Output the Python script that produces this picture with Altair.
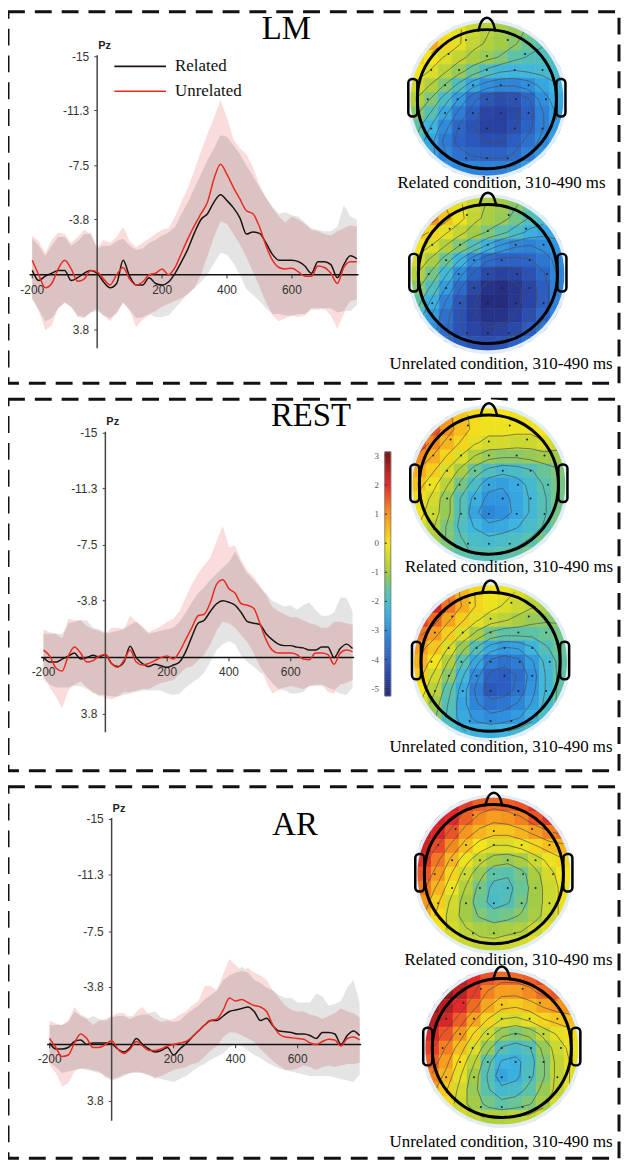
import altair as alt
import numpy as np
import pandas as pd

# ---------------------------------------------------------------- ERP data
TIME = list(range(-200, 801, 20))

LM_REL = [-0.3, 0.4, 0.1, -0.1, -0.3, -0.3, 0.4, 0.2, -0.1, -0.3,
          -0.1, 0.5, 0.9, 0.6, -1.0, 0.1, 0.7, 0.7, 0.2, 0.6,
          0.7, 0.5, -0.1, -0.9, -1.8, -2.9, -3.8, -4.2, -5.0, -5.5,
          -5.1, -4.6, -3.9, -2.8, -2.95, -2.85, -2.2, -1.4, -1.0, -1.0,
          -1.0, -0.9, -0.6, -0.1, -0.9, -0.9, -0.7, 0.2, -0.7, -1.3, -1.1]
LM_UNREL = [-1.0, 0.0, 0.9, 0.6, -0.4, -1.0, -0.4, 0.45, 0.3, -0.3,
            -0.2, 0.3, 0.7, 0.0, -0.5, 0.3, 0.7, 0.5, 0.0, -0.1,
            -0.4, 0.0, -0.5, -1.5, -2.5, -3.4, -4.2, -5.0, -6.6, -7.6,
            -6.9, -6.0, -5.2, -4.4, -4.2, -3.3, -2.0, -1.0, -0.5, -0.4,
            -0.45, -0.2, 0.1, 0.1, -0.6, -0.5, -0.1, 0.6, -0.5, -0.9, -0.9]
LM_REL_NEG = [-2.5, -2.0, -1.3, -2.0, -2.6, -2.6, -2.0, -2.3, -2.8, -2.9,
              -1.8, -2.0, -2.0, -2.3, -2.5, -2.0, -1.7, -1.8, -2.2, -2.4,
              -2.7, -2.9, -3.3, -4.2, -5.0, -6.0, -6.9, -7.9, -8.7, -9.6,
              -9.5, -8.9, -8.3, -7.5, -6.8, -6.0, -5.3, -4.7, -4.2, -4.3,
              -4.1, -4.0, -3.6, -3.2, -3.1, -3.0, -3.0, -3.3, -4.8, -4.0, -3.8]
LM_REL_POS = [1.7, 2.4, 3.2, 3.0, 2.3, 1.9, 2.2, 2.8, 2.9, 2.6,
              2.5, 2.8, 3.0, 2.7, 1.9, 2.4, 3.0, 2.9, 2.7, 2.9,
              2.9, 2.8, 2.3, 1.8, 1.3, 0.9, 0.5, 0.0, -0.8, -1.5,
              -1.4, -0.8, 0.0, 1.0, 1.4, 1.8, 2.3, 2.7, 2.7, 2.8,
              2.8, 2.7, 2.7, 2.3, 2.3, 2.4, 2.3, 2.6, 2.5, 2.5, 2.1]
LM_UNREL_NEG = [-2.7, -2.3, -1.5, -2.4, -2.9, -2.8, -2.2, -2.6, -3.1, -2.8,
                -1.9, -2.4, -2.2, -2.6, -3.3, -2.3, -1.9, -2.2, -2.5, -2.8,
                -3.1, -3.2, -4.0, -5.0, -6.0, -7.2, -8.5, -9.7, -10.8, -12.0,
                -10.8, -9.3, -8.7, -8.3, -7.4, -6.2, -5.3, -4.6, -4.0, -3.6,
                -4.0, -3.8, -3.5, -3.1, -3.0, -2.8, -2.7, -3.0, -3.2, -3.4, -3.3]
LM_UNREL_POS = [1.6, 2.5, 3.8, 3.5, 2.3, 1.9, 2.2, 2.9, 3.0, 2.6,
                2.3, 2.8, 3.2, 2.6, 1.9, 2.5, 3.6, 3.1, 2.8, 2.5,
                2.2, 2.0, 1.8, 1.6, 1.3, 0.9, 0.0, -1.3, -2.6, -3.7,
                -3.5, -2.8, -2.1, -1.2, -0.2, 0.8, 1.9, 2.8, 3.2, 3.0,
                2.8, 2.9, 2.8, 2.4, 2.4, 2.3, 2.8, 3.7, 2.7, 1.8, 1.7]

REST_REL = [0.0, 0.3, 0.3, 0.1, -0.1, -0.3, 0.1, 0.0, -0.15, -0.05,
            -0.2, 0.4, 0.6, 0.3, -0.75, 0.0, 0.4, 0.6, 0.45, 0.55,
            0.65, 0.5, 0.3, -0.4, -1.4, -2.3, -2.5, -3.1, -3.6, -3.8,
            -3.7, -3.5, -3.0, -2.4, -2.3, -2.2, -1.6, -1.2, -0.9, -0.8,
            -0.8, -0.7, -0.65, -0.5, -0.5, -0.7, -0.7, 0.0, -0.6, -0.9, -0.6]
REST_UNREL = [-0.5, -0.1, 0.7, 0.9, -0.1, -0.7, -0.3, 0.3, 0.2, -0.1,
              -0.2, 0.4, 0.65, 0.2, -0.5, 0.3, 0.5, 0.4, 0.2, 0.0,
              -0.1, 0.1, -0.4, -1.2, -2.0, -2.8, -2.9, -3.7, -4.9, -5.2,
              -4.6, -4.3, -3.6, -3.5, -3.3, -2.3, -1.2, -0.5, -0.3, -0.3,
              -0.3, -0.2, 0.1, 0.15, -0.3, -0.3, -0.2, 0.45, -0.3, -0.5, -0.4]
REST_REL_NEG = [-1.6, -1.6, -1.6, -1.6, -2.3, -2.4, -2.5, -2.5, -2.0, -1.9,
                -1.7, -1.7, -1.8, -2.0, -2.2, -2.4, -2.0, -1.6, -1.7, -1.8,
                -1.9, -2.0, -2.4, -3.0, -3.7, -4.3, -4.7, -5.2, -5.6, -6.0,
                -6.4, -7.1, -6.3, -5.6, -5.2, -4.7, -4.3, -3.8, -3.6, -3.4,
                -3.5, -3.2, -3.5, -3.7, -3.2, -2.8, -2.8, -3.0, -4.0, -4.0, -3.1]
REST_REL_POS = [1.5, 1.8, 2.0, 2.0, 2.0, 1.9, 1.9, 2.1, 2.3, 2.6,
                2.5, 2.6, 2.6, 2.5, 2.4, 2.3, 2.2, 2.2, 2.2, 2.2,
                2.4, 2.5, 2.4, 2.0, 1.7, 1.4, 1.0, 0.3, -0.5, -0.9,
                -1.1, -0.9, -0.1, 0.3, 0.6, 1.0, 1.2, 1.7, 2.1, 2.2,
                2.4, 2.4, 2.3, 1.9, 1.9, 1.9, 2.0, 2.2, 2.4, 2.5, 2.0]
REST_UNREL_NEG = [-1.9, -1.7, -1.6, -1.3, -2.6, -2.5, -2.5, -2.1, -1.9, -1.8,
                  -1.6, -2.0, -2.0, -1.9, -2.8, -2.4, -2.1, -1.7, -1.9, -2.1,
                  -2.4, -2.6, -3.1, -4.0, -4.9, -5.6, -6.2, -6.7, -7.8, -8.8,
                  -7.4, -7.5, -6.5, -5.8, -5.4, -4.8, -4.2, -3.4, -3.1, -2.9,
                  -2.7, -2.7, -2.5, -2.3, -2.2, -2.0, -2.0, -2.4, -2.4, -2.3, -2.2]
REST_UNREL_POS = [1.3, 2.0, 2.6, 3.4, 2.2, 1.8, 1.6, 2.0, 2.4, 2.5,
                  2.7, 2.8, 2.6, 2.3, 2.3, 2.2, 2.1, 2.1, 1.9, 1.7,
                  1.6, 1.5, 1.1, 0.7, 0.6, 0.2, -0.2, -0.9, -1.8, -2.4,
                  -2.3, -2.0, -1.5, -1.0, -0.3, 0.6, 1.6, 2.4, 2.2, 2.0,
                  1.9, 2.0, 2.1, 1.9, 1.8, 1.8, 2.3, 2.4, 1.8, 1.7, 1.5]

AR_REL = [-0.1, 0.3, 0.3, 0.2, -0.2, -0.3, 0.0, -0.1, -0.1, -0.1,
          -0.05, 0.3, 0.5, 0.2, -0.4, 0.0, 0.3, 0.5, 0.4, 0.2,
          0.7, 0.3, -0.05, -0.5, -0.9, -1.3, -1.6, -1.6, -1.9, -2.2,
          -2.3, -2.4, -2.5, -2.2, -1.6, -1.75, -1.25, -0.9, -0.85, -0.8,
          -0.7, -0.7, -0.6, -0.4, -0.8, -0.8, -0.7, 0.0, -0.6, -0.9, -0.6]
AR_UNREL = [-0.4, 0.2, 0.8, 0.7, -0.1, -0.7, -0.4, 0.2, 0.2, 0.0,
            -0.25, 0.3, 0.6, 0.3, -0.2, 0.1, 0.4, 0.4, 0.3, 0.1,
            0.0, -0.1, -0.2, -0.5, -0.9, -1.3, -1.6, -1.7, -2.3, -3.1,
            -2.9, -3.0, -2.8, -2.6, -2.5, -2.2, -1.3, -0.7, -0.5, -0.45,
            -0.4, -0.35, -0.1, 0.0, -0.2, -0.35, -0.3, 0.1, -0.4, -0.5, -0.3]
AR_REL_NEG = [-1.3, -1.3, -1.3, -1.5, -2.2, -1.9, -1.7, -1.9, -1.7, -1.6,
              -1.8, -1.9, -1.9, -1.9, -1.9, -2.0, -2.1, -2.2, -1.8, -1.7,
              -1.5, -1.6, -2.0, -2.3, -2.6, -3.0, -3.3, -3.7, -4.3, -4.6,
              -4.8, -5.2, -4.8, -4.3, -4.1, -3.8, -3.6, -3.3, -3.1, -3.1,
              -2.8, -2.8, -2.8, -3.4, -3.2, -2.6, -2.7, -2.9, -3.8, -4.3, -2.8]
AR_REL_POS = [1.2, 1.5, 1.9, 1.8, 1.7, 1.6, 1.7, 1.8, 1.9, 2.1,
              2.4, 2.3, 2.1, 1.9, 1.9, 1.9, 2.1, 2.2, 2.3, 2.4,
              2.5, 2.3, 2.1, 1.8, 1.5, 1.3, 1.0, 0.8, 0.6, 0.2,
              -0.1, 0.1, 0.4, 0.7, 0.9, 1.2, 1.4, 1.6, 1.7, 1.8,
              1.9, 2.0, 2.1, 2.1, 2.1, 2.1, 2.2, 2.3, 2.4, 2.5, 2.0]
AR_UNREL_NEG = [-1.6, -1.4, -1.3, -1.6, -2.5, -2.0, -1.8, -1.3, -1.6, -1.7,
                -1.9, -2.1, -2.1, -1.7, -2.2, -2.5, -2.0, -1.7, -1.5, -1.6,
                -1.7, -2.0, -2.2, -2.6, -2.9, -3.9, -3.9, -3.6, -4.7, -5.7,
                -5.3, -4.9, -5.1, -4.8, -4.6, -4.3, -3.6, -3.1, -2.6, -2.3,
                -2.2, -2.2, -2.0, -1.9, -1.7, -1.9, -2.1, -2.4, -2.2, -2.1, -1.8]
AR_UNREL_POS = [1.4, 1.9, 2.8, 2.6, 1.8, 1.6, 1.6, 1.7, 1.8, 2.2,
                2.3, 2.2, 2.0, 1.9, 1.8, 1.9, 2.0, 2.3, 2.1, 1.9,
                1.7, 1.6, 1.5, 1.3, 1.2, 0.8, 0.4, 0.1, -0.5, -0.8,
                -0.8, -0.6, -0.4, -0.2, 0.3, 0.7, 1.1, 1.4, 1.7, 1.7,
                1.6, 1.4, 1.5, 1.7, 1.5, 1.4, 1.5, 1.4, 1.3, 1.3, 1.2]

Y_TICKS = [-15, -11.3, -7.5, -3.8, 3.8]
X_TICKS = [-200, 200, 400, 600]
COND_LABELS = ["Related", "Unrelated"]
PANEL_TITLES = ["LM", "REST", "AR"]
REL_TITLE = "Related condition, 310-490 ms"
UNREL_TITLE = "Unrelated condition, 310-490 ms"

# ------------------------------------------------- topographic maps (µV)
# 11 x 11 grid over the scalp, row 0 = front (nose), column 0 = left
N = None
LM_REL_MAP = [
    [N, N, 0.0, -0.2, -0.5, -0.7, -0.9, -1.1, -1.3, N, N],
    [N, 0.8, 0.2, -0.2, -0.6, -0.8, -1.0, -1.2, -1.5, -1.7, N],
    [0.2, 0.0, -0.3, -0.6, -0.9, -1.1, -1.3, -1.6, -1.8, -1.9, -1.9],
    [0.0, -0.3, -0.7, -1.1, -1.5, -1.9, -2.2, -2.3, -2.2, -2.1, -2.0],
    [-0.4, -0.8, -1.3, -1.9, -2.6, -3.0, -3.2, -3.2, -3.0, -2.6, -2.3],
    [-0.8, -1.3, -2.0, -2.8, -3.6, -4.1, -4.3, -4.2, -3.8, -3.0, -2.5],
    [-1.2, -1.8, -2.6, -3.4, -4.0, -4.5, -4.6, -4.4, -4.0, -3.3, -2.7],
    [-1.6, -2.3, -3.1, -3.8, -4.2, -4.6, -4.6, -4.3, -3.9, -3.3, -2.8],
    [-1.9, -2.6, -3.4, -3.9, -4.1, -4.3, -4.3, -4.0, -3.6, -3.1, -2.7],
    [N, -2.6, -3.2, -3.6, -3.8, -3.9, -3.9, -3.7, -3.3, -2.9, N],
    [N, N, -2.9, -3.1, -3.2, -3.3, -3.3, -3.1, -2.8, N, N],
]
LM_UNREL_MAP = [
    [N, N, 0.2, -0.2, -0.5, -0.8, -1.0, -1.2, -1.5, N, N],
    [N, 1.0, 0.4, -0.1, -0.6, -0.9, -1.1, -1.4, -1.8, -2.0, N],
    [0.4, 0.2, -0.2, -0.6, -1.0, -1.3, -1.6, -2.0, -2.4, -2.6, -2.6],
    [0.0, -0.3, -0.8, -1.3, -1.8, -2.4, -2.9, -3.2, -3.3, -3.1, -2.9],
    [-0.4, -0.9, -1.5, -2.3, -3.1, -3.7, -3.9, -3.9, -3.8, -3.5, -3.1],
    [-0.8, -1.4, -2.2, -3.1, -3.9, -4.4, -4.6, -4.5, -4.2, -3.8, -3.2],
    [-1.2, -1.9, -2.8, -3.7, -4.4, -5.0, -5.1, -4.9, -4.5, -4.0, -3.3],
    [-1.6, -2.4, -3.3, -4.1, -4.7, -5.2, -5.2, -4.9, -4.5, -4.0, -3.3],
    [-2.0, -2.8, -3.6, -4.2, -4.7, -5.0, -5.0, -4.7, -4.3, -3.8, -3.2],
    [N, -3.0, -3.7, -4.2, -4.5, -4.7, -4.6, -4.4, -4.0, -3.5, N],
    [N, N, -3.6, -4.0, -4.2, -4.3, -4.2, -3.9, -3.6, N, N],
]
REST_REL_MAP = [
    [N, N, 0.9, 0.4, 0.1, 0.0, 0.0, -0.1, -0.1, N, N],
    [N, 1.6, 1.0, 0.5, 0.1, -0.1, -0.1, -0.1, -0.1, 0.0, N],
    [1.6, 1.1, 0.6, 0.2, -0.2, -0.4, -0.4, -0.5, -0.5, -0.3, -0.5],
    [1.1, 0.7, 0.2, -0.3, -0.8, -1.1, -1.2, -1.2, -1.1, -1.0, -1.0],
    [0.7, 0.3, -0.3, -0.9, -1.5, -1.9, -2.1, -2.0, -1.8, -1.5, -1.3],
    [0.4, -0.1, -0.7, -1.4, -2.0, -2.6, -2.7, -2.5, -2.1, -1.7, -1.4],
    [0.1, -0.4, -1.1, -1.8, -2.4, -2.9, -2.9, -2.6, -2.2, -1.8, -1.4],
    [-0.1, -0.5, -1.1, -1.8, -2.6, -3.2, -3.0, -2.6, -2.2, -1.8, -1.4],
    [-0.3, -0.7, -1.3, -1.9, -2.3, -2.6, -2.5, -2.3, -2.0, -1.7, -1.4],
    [N, -0.9, -1.3, -1.7, -2.0, -2.1, -2.0, -1.9, -1.7, -1.4, N],
    [N, N, -1.4, -1.6, -1.8, -1.8, -1.7, -1.6, -1.4, N, N],
]
REST_UNREL_MAP = [
    [N, N, 1.2, 0.6, 0.2, 0.0, -0.1, -0.3, -0.5, N, N],
    [N, 2.0, 1.3, 0.7, 0.2, -0.1, -0.3, -0.5, -0.7, -0.9, N],
    [1.8, 1.4, 0.8, 0.3, -0.2, -0.5, -0.7, -0.9, -1.1, -1.2, -1.2],
    [1.3, 0.9, 0.3, -0.3, -0.9, -1.4, -1.6, -1.6, -1.6, -1.5, -1.4],
    [0.9, 0.4, -0.3, -1.1, -1.8, -2.5, -2.8, -2.7, -2.3, -1.8, -1.5],
    [0.6, 0.0, -0.8, -1.7, -2.6, -3.4, -3.6, -3.4, -2.8, -2.1, -1.6],
    [0.3, -0.4, -1.2, -2.2, -3.1, -3.9, -4.0, -3.7, -3.0, -2.2, -1.6],
    [0.0, -0.7, -1.6, -2.5, -3.4, -4.1, -4.0, -3.6, -2.9, -2.2, -1.6],
    [-0.3, -1.0, -1.8, -2.6, -3.2, -3.6, -3.5, -3.2, -2.7, -2.1, -1.6],
    [N, -1.2, -1.9, -2.5, -2.9, -3.1, -3.0, -2.8, -2.4, -1.9, N],
    [N, N, -1.9, -2.2, -2.4, -2.4, -2.3, -2.1, -1.9, N, N],
]
AR_REL_MAP = [
    [N, N, 2.2, 1.8, 1.5, 1.4, 1.5, 1.6, 1.9, N, N],
    [N, 2.2, 2.0, 1.5, 1.1, 0.9, 1.0, 1.2, 1.6, 1.9, N],
    [2.3, 2.1, 1.6, 1.0, 0.6, 0.4, 0.4, 0.6, 0.9, 1.2, 1.4],
    [2.2, 1.7, 1.1, 0.5, 0.0, -0.3, -0.3, -0.1, 0.2, 0.5, 0.6],
    [1.9, 1.3, 0.6, -0.1, -0.6, -1.0, -1.1, -0.9, -0.5, -0.1, 0.2],
    [1.6, 1.0, 0.2, -0.5, -1.1, -1.6, -1.7, -1.4, -0.9, -0.4, 0.0],
    [1.3, 0.6, -0.1, -0.8, -1.4, -1.9, -1.9, -1.5, -1.0, -0.5, -0.1],
    [1.0, 0.3, -0.4, -1.0, -1.5, -2.0, -1.8, -1.4, -1.0, -0.5, -0.1],
    [0.7, 0.1, -0.5, -1.0, -1.3, -1.5, -1.4, -1.2, -0.9, -0.5, -0.1],
    [N, 0.0, -0.4, -0.7, -0.9, -1.0, -0.9, -0.8, -0.5, -0.2, N],
    [N, N, -0.3, -0.5, -0.6, -0.6, -0.5, -0.4, -0.2, N, N],
]
AR_UNREL_MAP = [
    [N, N, 2.5, 2.0, 1.6, 1.4, 1.4, 1.5, 1.7, N, N],
    [N, 2.9, 2.4, 1.8, 1.2, 0.9, 0.9, 1.1, 1.4, 1.6, N],
    [2.8, 2.5, 2.0, 1.4, 0.8, 0.4, 0.3, 0.5, 0.8, 1.0, 1.1],
    [2.5, 2.1, 1.5, 0.8, 0.2, -0.3, -0.4, -0.2, 0.2, 0.4, 0.5],
    [2.1, 1.6, 1.0, 0.2, -0.5, -1.1, -1.3, -1.1, -0.6, -0.2, 0.1],
    [1.8, 1.2, 0.5, -0.3, -1.1, -1.8, -2.0, -1.8, -1.1, -0.5, -0.1],
    [1.5, 0.9, 0.1, -0.7, -1.6, -2.3, -2.4, -2.0, -1.3, -0.6, -0.2],
    [1.2, 0.6, -0.2, -1.0, -1.8, -2.6, -2.4, -1.9, -1.3, -0.6, -0.2],
    [0.9, 0.3, -0.4, -1.1, -1.7, -2.1, -2.0, -1.6, -1.1, -0.6, -0.2],
    [N, 0.1, -0.5, -1.0, -1.4, -1.6, -1.5, -1.3, -0.9, -0.4, N],
    [N, N, -0.4, -0.6, -0.8, -0.8, -0.7, -0.6, -0.4, N, N],
]

# electrode positions (head units) and head outline parts
ELEC_U = [-0.3, 0.3, -0.55, 0.0, 0.55, -0.8, -0.4, 0.0, 0.4, 0.8, -0.6, -0.2, 0.2, 0.6,
          -0.85, -0.42, 0.0, 0.42, 0.85, -0.6, -0.2, 0.2, 0.6, -0.8, -0.4, 0.0, 0.4, 0.8,
          -0.3, 0.0, 0.3]
ELEC_V = [0.85, 0.85, 0.65, 0.62, 0.65, 0.42, 0.42, 0.42, 0.42, 0.42, 0.2, 0.2, 0.2, 0.2,
          0.0, 0.0, 0.0, 0.0, 0.0, -0.2, -0.2, -0.2, -0.2, -0.42, -0.42, -0.42, -0.42, -0.42,
          -0.85, -0.85, -0.85]
NOSE_U = [-0.12, -0.09, -0.05, 0.0, 0.05, 0.09, 0.12]
NOSE_V = [0.99, 1.09, 1.15, 1.17, 1.15, 1.09, 0.99]
EAR_U0 = [-1.13, 1.0]
EAR_U1 = [-1.0, 1.13]
EAR_V0 = [-0.25, -0.25]
EAR_V1 = [0.29, 0.29]

CB_TICKS = [3, 2, 1, 0, -1, -2, -3, -4, -5]
CB_MIN, CB_MAX = -5.25, 3.14
C_STOPS = [-5.25, -4.5, -4.0, -3.0, -2.3, -1.6, -1.0, 0.0, 1.0, 2.0, 3.14]
C_COLS = ["#252a7a", "#2a45a5", "#2c5dc0", "#2f90df", "#3db5df", "#5ec3a6",
          "#a2cb47", "#f4e41c", "#f7961f", "#e2282a", "#7a1616"]
CONTOUR_LEVELS = [-4.75 + 0.5 * k for k in range(16)]

SANS = "Liberation Sans"
SERIF = "Liberation Serif"
BLACK_LINE = "#1c1414"
RED_LINE = "#ea2a1e"
GRAY_BAND = "#e4e4e4"
PINK_BAND = "#fbdcdc"
OVER_BAND = "#dcc3c3"

R = 70.0      # head radius in px
STEP = 0.2    # grid step in head units
DISC = 1.1    # radius of the coloured disc, head units
CSCALE = dict(domain=C_STOPS, range=C_COLS, clamp=True, interpolate="rgb")
TWO_PI = 2 * np.pi


def erp_layer(g, series, title, tpos, legend):
    rel, unrel, rn, rp, un, up = series
    x0, x1, y0, y1, vb = g
    xs = alt.Scale(domain=[-200, 800], range=[x0, x1], nice=False, zero=False)
    ys = alt.Scale(domain=[-15, vb], range=[y0, y1], nice=False, zero=False)

    def X(f):
        return alt.X(f, type="quantitative", scale=xs, axis=None)

    def Y(f):
        return alt.Y(f, type="quantitative", scale=ys, axis=None)

    df = pd.DataFrame(dict(t=TIME, rel=rel, unrel=unrel, rn=rn, rp=rp, un=un, up=up))
    df["on"] = np.maximum(df["rn"], df["un"])
    df["op"] = np.maximum(np.minimum(df["rp"], df["up"]), df["on"])
    base = alt.Chart(df)
    layers = [
        base.mark_area(color=GRAY_BAND).encode(X("t"), Y("rn"), alt.Y2("rp")),
        base.mark_area(color=PINK_BAND).encode(X("t"), Y("un"), alt.Y2("up")),
        base.mark_area(color=OVER_BAND).encode(X("t"), Y("on"), alt.Y2("op")),
    ]
    xa = pd.DataFrame({"t0": [TIME[0] - 8], "t1": [TIME[-1] + 5], "v": [0]})
    layers.append(alt.Chart(xa).mark_rule(color="#111111", strokeWidth=1.5)
                  .encode(X("t0"), alt.X2("t1"), Y("v")))
    ya = pd.DataFrame({"t": [0], "v0": [-15.1], "v1": [vb]})
    layers.append(alt.Chart(ya).mark_rule(color="#444444", strokeWidth=1.5)
                  .encode(X("t"), Y("v0"), alt.Y2("v1")))
    yt = pd.DataFrame({"v": Y_TICKS, "lab": [f"{v:g}" for v in Y_TICKS], "t0": -9, "t1": 0})
    layers.append(alt.Chart(yt).mark_rule(color="#444444", strokeWidth=1)
                  .encode(X("t0"), alt.X2("t1"), Y("v")))
    layers.append(alt.Chart(yt).mark_text(align="right", baseline="middle", dx=-8, font=SANS,
                                          fontSize=12, color="#333333")
                  .encode(X("t1"), Y("v"), text="lab:N"))
    xt = pd.DataFrame({"t": X_TICKS, "lab": [f"{t:g}" for t in X_TICKS], "v0": 0, "v1": 0.25})
    layers.append(alt.Chart(xt).mark_rule(color="#333333", strokeWidth=1)
                  .encode(X("t"), Y("v0"), alt.Y2("v1")))
    layers.append(alt.Chart(xt).mark_text(align="center", baseline="middle", dy=15, font=SANS,
                                          fontSize=12, color="#333333")
                  .encode(X("t"), Y("v0"), text="lab:N"))
    pz = pd.DataFrame({"t": [0], "v": [-15], "lab": ["Pz"]})
    layers.append(alt.Chart(pz).mark_text(align="left", baseline="middle", dx=1, dy=-11, font=SANS,
                                          fontSize=11, fontWeight="bold", color="#222222")
                  .encode(X("t"), Y("v"), text="lab:N"))
    tt = pd.DataFrame({"t": [tpos[0]], "v": [tpos[1]], "lab": [title]})
    layers.append(alt.Chart(tt).mark_text(align="center", baseline="middle", font=SERIF,
                                          fontSize=33, color="black")
                  .encode(X("t"), Y("v"), text="lab:N"))
    if legend:
        lg = pd.DataFrame({"t0": [53, 53], "t1": [212, 212], "tl": [240, 240],
                           "v": [-14.34, -12.63], "lab": COND_LABELS,
                           "col": [BLACK_LINE, RED_LINE]})
        layers.append(alt.Chart(lg).mark_rule(strokeWidth=1.6)
                      .encode(X("t0"), alt.X2("t1"), Y("v"),
                              color=alt.Color("col:N", scale=None)))
        layers.append(alt.Chart(lg).mark_text(align="left", baseline="middle", font=SERIF,
                                              fontSize=17, color="#111111")
                      .encode(X("tl"), Y("v"), text="lab:N"))
    layers.append(base.mark_line(color=BLACK_LINE, strokeWidth=1.5, interpolate="monotone")
                  .encode(X("t"), Y("rel")))
    layers.append(base.mark_line(color=RED_LINE, strokeWidth=1.5, interpolate="monotone")
                  .encode(X("t"), Y("unrel")))
    return alt.layer(*layers)


def _clip_edge(lo, hi, other_inner):
    """Trim a cell edge so that it does not reach past the coloured disc."""
    lim = float(np.sqrt(max(DISC ** 2 - other_inner ** 2, 0.0)))
    if hi > 0:
        hi = min(hi, lim)
    if lo < 0:
        lo = max(lo, -lim)
    return lo, hi


def grid_cells(grid):
    rows = []
    for i, line in enumerate(grid):
        for j, val in enumerate(line):
            if val is None:
                continue
            u = (j - 5) * STEP
            v = (5 - i) * STEP
            u0, u1 = u - STEP / 2, u + STEP / 2
            v0, v1 = v - STEP / 2, v + STEP / 2
            u_in = 0.0 if u0 < 0 < u1 else min(abs(u0), abs(u1))
            v_in = 0.0 if v0 < 0 < v1 else min(abs(v0), abs(v1))
            u0c, u1c = _clip_edge(u0, u1, v_in)
            v0c, v1c = _clip_edge(v0, v1, u_in)
            rows.append(dict(u0=u0c, u1=u1c, v0=v0c, v1=v1c, val=val))
    return pd.DataFrame(rows)


def grid_contours(grid):
    rows = []
    n = len(grid)
    for i in range(n - 1):
        for j in range(n - 1):
            corner = [(grid[i][j], j, i), (grid[i][j + 1], j + 1, i),
                      (grid[i + 1][j + 1], j + 1, i + 1), (grid[i + 1][j], j, i + 1)]
            if any(c[0] is None for c in corner):
                continue
            for lev in CONTOUR_LEVELS:
                pts = []
                for k in range(4):
                    va, ca, ra = corner[k]
                    vb_, cb, rb = corner[(k + 1) % 4]
                    if (va - lev) * (vb_ - lev) < 0:
                        f = (lev - va) / (vb_ - va)
                        cc = ca + f * (cb - ca)
                        rr = ra + f * (rb - ra)
                        pts.append(((cc - 5) * STEP, (5 - rr) * STEP))
                for a, b in zip(pts[0::2], pts[1::2]):
                    rows.append(dict(u=a[0], v=a[1], u2=b[0], v2=b[1]))
    return pd.DataFrame(rows)


def topo_layer(grid, center, label, lpos):
    cx, cy = center
    xs = alt.Scale(domain=[-1, 1], range=[cx - R, cx + R], nice=False, zero=False)
    ys = alt.Scale(domain=[-1, 1], range=[cy + R, cy - R], nice=False, zero=False)

    def X(f):
        return alt.X(f, type="quantitative", scale=xs, axis=None)

    def Y(f):
        return alt.Y(f, type="quantitative", scale=ys, axis=None)

    cells = grid_cells(grid)
    cont = grid_contours(grid)
    origin = pd.DataFrame({"u": [0.0], "v": [0.0]})
    layers = [
        alt.Chart(cells).mark_rect(strokeWidth=0.6).encode(
            X("u0"), alt.X2("u1"), Y("v0"), alt.Y2("v1"),
            color=alt.Color("val:Q", scale=alt.Scale(**CSCALE), legend=None),
            stroke=alt.Stroke("val:Q", scale=alt.Scale(**CSCALE), legend=None)),
        alt.Chart(cont).mark_rule(color="#4d4d4d", strokeWidth=0.9, opacity=0.75).encode(
            X("u"), alt.X2("u2"), Y("v"), alt.Y2("v2")),
        # white annulus hiding the square corners of the grid outside the scalp disc
        alt.Chart(origin).mark_arc(radius=86, radius2=80.5, theta=0, theta2=TWO_PI,
                                   color="white").encode(X("u"), Y("v")),
        alt.Chart(origin).mark_arc(radius=80.5, radius2=DISC * R, theta=0, theta2=TWO_PI,
                                   color="#e1edf8").encode(X("u"), Y("v")),
        alt.Chart(origin).mark_point(shape="circle", filled=False, color="black", opacity=1,
                                     strokeWidth=3, size=(2 * R) ** 2).encode(X("u"), Y("v")),
    ]
    nose = pd.DataFrame({"u": NOSE_U, "v": NOSE_V, "i": range(len(NOSE_U))})
    layers.append(alt.Chart(nose).mark_line(color="black", strokeWidth=2.5, strokeJoin="round",
                                            strokeCap="round", interpolate="monotone")
                  .encode(X("u"), Y("v"), order="i:Q"))
    ears = pd.DataFrame({"u0": EAR_U0, "u1": EAR_U1, "v0": EAR_V0, "v1": EAR_V1})
    layers.append(alt.Chart(ears).mark_rect(fillOpacity=0, stroke="black", strokeWidth=2.5,
                                            cornerRadius=4)
                  .encode(X("u0"), alt.X2("u1"), Y("v0"), alt.Y2("v1")))
    el = pd.DataFrame({"u": ELEC_U, "v": ELEC_V})
    layers.append(alt.Chart(el).mark_circle(color="#222222", size=4, opacity=1)
                  .encode(X("u"), Y("v")))
    tl = pd.DataFrame({"u": [lpos[0]], "v": [lpos[1]], "lab": [label]})
    layers.append(alt.Chart(tl).mark_text(align="center", baseline="middle", font=SERIF,
                                          fontSize=17, color="black")
                  .encode(X("u"), Y("v"), text="lab:N"))
    return alt.layer(*layers)


def colorbar_layer():
    edges = np.linspace(CB_MIN, CB_MAX, 121)
    df = pd.DataFrame({"lo": edges[:-1], "hi": edges[1:]})
    df["mid"] = (df["lo"] + df["hi"]) / 2
    df["x0"] = 0.0
    df["x1"] = 1.0
    xs = alt.Scale(domain=[0, 1], range=[379.3, 385.3], nice=False, zero=False)
    ys = alt.Scale(domain=[CB_MIN, CB_MAX], range=[298.7, 53.0], nice=False, zero=False)

    def X(f):
        return alt.X(f, type="quantitative", scale=xs, axis=None)

    def Y(f):
        return alt.Y(f, type="quantitative", scale=ys, axis=None)

    frame = pd.DataFrame({"x0": [0.0], "x1": [1.0], "lo": [CB_MIN], "hi": [CB_MAX]})
    ticks = pd.DataFrame({"v": CB_TICKS, "lab": [str(t) for t in CB_TICKS], "x0": 0.0, "x1": 0.35})
    return alt.layer(
        alt.Chart(df).mark_rect(strokeWidth=0.6).encode(
            X("x0"), alt.X2("x1"), Y("lo"), alt.Y2("hi"),
            color=alt.Color("mid:Q", scale=alt.Scale(**CSCALE), legend=None),
            stroke=alt.Stroke("mid:Q", scale=alt.Scale(**CSCALE), legend=None)),
        alt.Chart(frame).mark_rect(fillOpacity=0, stroke="#777777", strokeWidth=0.8).encode(
            X("x0"), alt.X2("x1"), Y("lo"), alt.Y2("hi")),
        alt.Chart(ticks).mark_rule(color="#333333", strokeWidth=1).encode(
            X("x0"), alt.X2("x1"), Y("v")),
        alt.Chart(ticks).mark_text(align="right", baseline="middle", dx=-6, font=SERIF,
                                   fontSize=9, color="#555555").encode(X("x0"), Y("v"), text="lab:N"),
    )


ROW_W, ROW_H = 615, 374

ROWS = [
    dict(g=(24.4, 351.1, 45.3, 338.6, 5.05),
         series=(LM_REL, LM_UNREL, LM_REL_NEG, LM_REL_POS, LM_UNREL_NEG, LM_UNREL_POS),
         tpos=(582.5, -16.93), legend=True,
         maps=[(LM_REL_MAP, (482, 88), REL_TITLE, (0.21, -1.2)),
               (LM_UNREL_MAP, (483, 264), UNREL_TITLE, (0.19, -1.3))],
         cbar=False),
    dict(g=(35.8, 346.8, 34.3, 335.3, 5.0),
         series=(REST_REL, REST_UNREL, REST_REL_NEG, REST_REL_POS, REST_UNREL_NEG, REST_UNREL_POS),
         tpos=(665.6, -16.15), legend=False,
         maps=[(REST_REL_MAP, (484, 86), REL_TITLE, (0.29, -1.19)),
               (REST_UNREL_MAP, (485.7, 264.3), UNREL_TITLE, (0.15, -1.23))],
         cbar=True),
    dict(g=(41.9, 353.9, 33.0, 336.2, 5.08),
         series=(AR_REL, AR_UNREL, AR_REL_NEG, AR_REL_POS, AR_UNREL_NEG, AR_UNREL_POS),
         tpos=(592.0, -14.62), legend=False,
         maps=[(AR_REL_MAP, (489, 88), REL_TITLE, (0.21, -1.23)),
               (AR_UNREL_MAP, (497, 263), UNREL_TITLE, (-0.01, -1.35))],
         cbar=False),
]

row_charts = []
for k, spec in enumerate(ROWS):
    parts = [erp_layer(spec["g"], spec["series"], PANEL_TITLES[k], spec["tpos"], spec["legend"])]
    m_rel, m_unrel = spec["maps"]
    parts.append(topo_layer(*m_unrel))
    parts.append(topo_layer(*m_rel))
    if spec["cbar"]:
        parts.append(colorbar_layer())
    row = alt.layer(*parts).resolve_scale(
        x="independent", y="independent", color="independent", stroke="independent"
    ).properties(width=ROW_W, height=ROW_H)
    row_charts.append(row)

chart = alt.vconcat(*row_charts, spacing=16, bounds="flush").properties(
    padding={"left": -2, "top": -2, "right": 0, "bottom": 0}, background="white"
).configure_view(stroke="#111111", strokeWidth=3, strokeDash=[17, 10])

chart.save("out.html", embed_options={"renderer": "svg", "actions": False})
